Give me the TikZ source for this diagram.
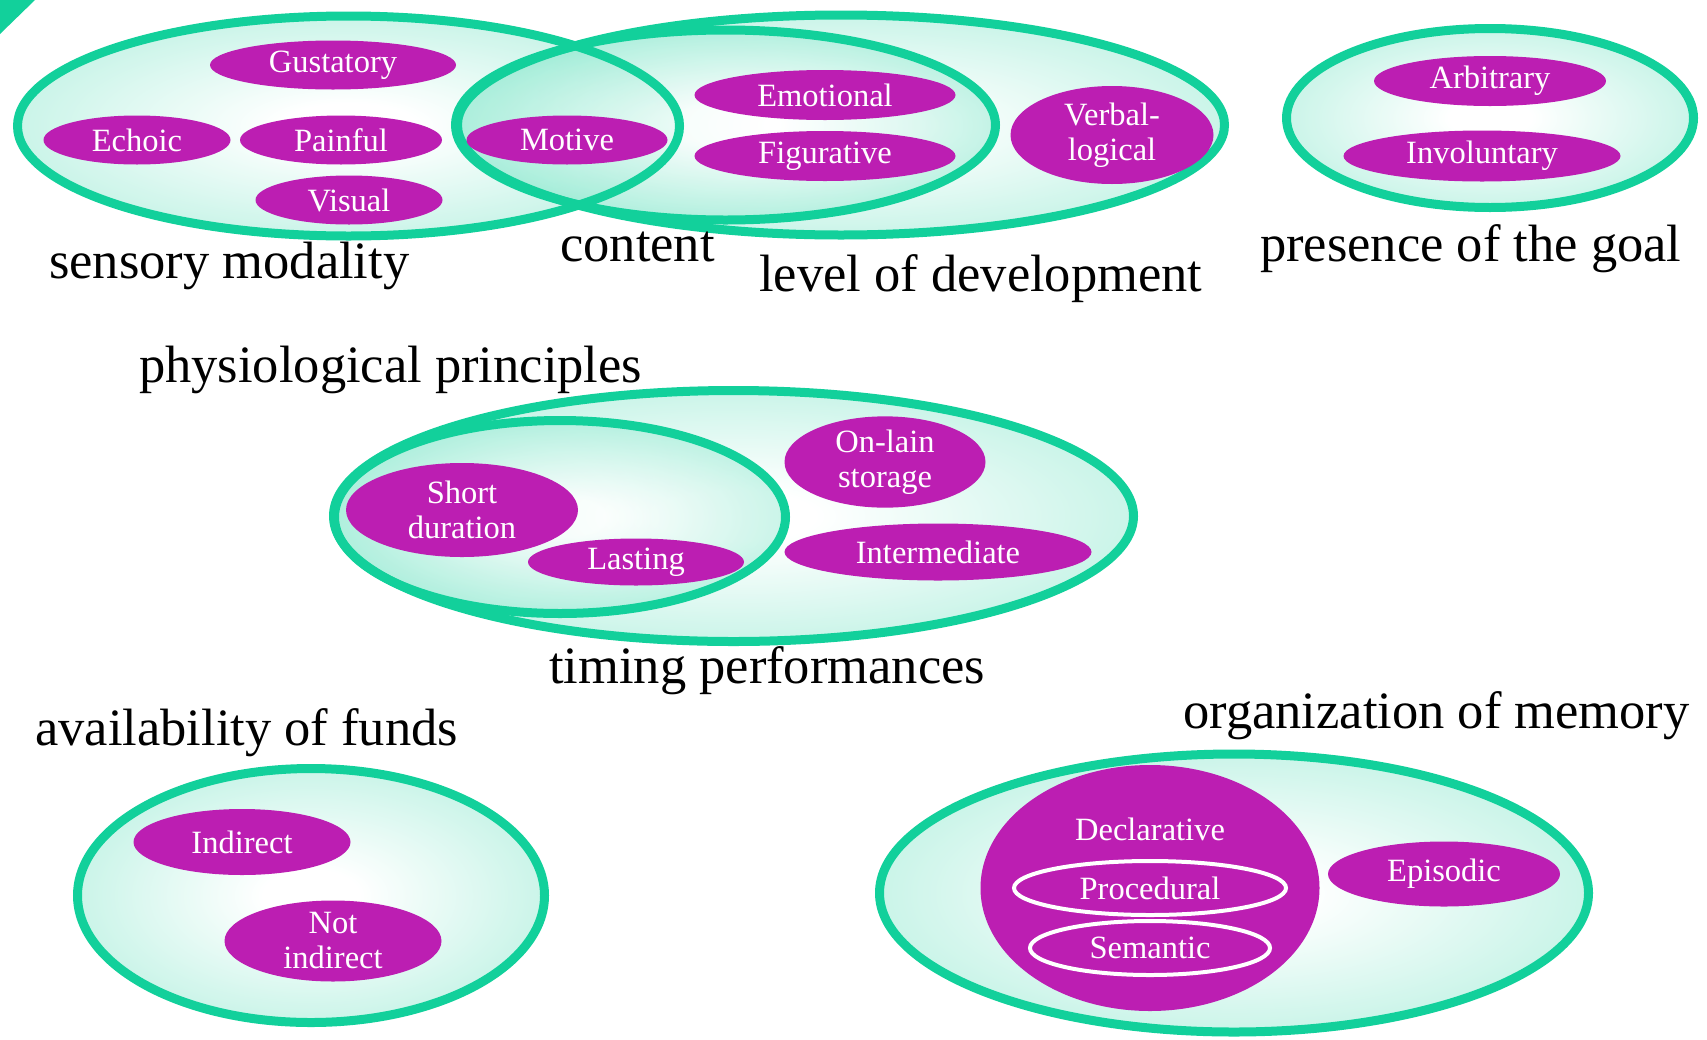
\documentclass[tikz,border=0pt]{standalone}
\usepackage{fontspec}
\setmainfont{Liberation Serif}
\usetikzlibrary{shapes.geometric}
\definecolor{tealc}{RGB}{18,208,155}
\definecolor{magc}{RGB}{188,30,178}
\pgfdeclareradialshading{tealrad}{\pgfpoint{0bp}{0bp}}{color(0bp)=(white); color(5bp)=(white); color(48bp)=(tealc); color(75bp)=(tealc)}
\begin{document}
\begin{tikzpicture}[x=1pt,y=-1pt,
  bigfill/.style={shading=tealrad, fill opacity=0.48},
  bigline/.style={draw=tealc, line width=9pt},
  mag/.style={ellipse, fill=magc, text=white, inner sep=0pt, font=\fontsize{32.5}{35}\selectfont, align=center},
  magw/.style={mag, draw=white, line width=4pt},
  lab/.style={anchor=base west, inner sep=0pt, font=\fontsize{52.5}{60}\selectfont}]
\useasboundingbox (0,0) rectangle (1707,1039);
\fill[tealc] (0,0) -- (35,0) -- (0,34) -- cycle;

% fills
\shade[bigfill] (348.5,126) ellipse [x radius=331, y radius=110];
\shade[bigfill] (841,125) ellipse [x radius=383.5, y radius=110];
\shade[bigfill] (725.5,125) ellipse [x radius=270, y radius=95];
\shade[bigfill] (1490,118) ellipse [x radius=203.5, y radius=89.5];
\shade[bigfill] (733.5,516) ellipse [x radius=400, y radius=125.5];
\shade[bigfill] (560,517) ellipse [x radius=225.5, y radius=96.5];
\shade[bigfill] (311,895.5) ellipse [x radius=233.5, y radius=127];
\shade[bigfill] (1234,893) ellipse [x radius=354.5, y radius=139];

% outlines
\draw[bigline] (348.5,126) ellipse [x radius=331, y radius=110];
\draw[bigline] (841,125) ellipse [x radius=383.5, y radius=110];
\draw[bigline] (725.5,125) ellipse [x radius=270, y radius=95];
\draw[bigline] (1490,118) ellipse [x radius=203.5, y radius=89.5];
\draw[bigline] (733.5,516) ellipse [x radius=400, y radius=125.5];
\draw[bigline] (560,517) ellipse [x radius=225.5, y radius=96.5];
\draw[bigline] (311,895.5) ellipse [x radius=233.5, y radius=127];
\draw[bigline] (1234,893) ellipse [x radius=354.5, y radius=139];

% magenta items
\node[mag, minimum width=246pt, minimum height=49pt] (gus) at (333,65) {Gustatory};
\node[mag, minimum width=187pt, minimum height=49pt] (ech) at (137,140) {Echoic};
\node[mag, minimum width=202pt, minimum height=49pt] (pai) at (341,140) {Painful};
\node[mag, minimum width=187pt, minimum height=49pt] (vis) at (349,200) {Visual};
\node[mag, minimum width=201pt, minimum height=49pt] (mot) at (567,140) {Motive};
\node[mag, minimum width=261pt, minimum height=50pt] (emo) at (825,95) {Emotional};
\node[mag, minimum width=261pt, minimum height=50pt] (fig) at (825,156) {Figurative};
\node[mag, minimum width=203pt, minimum height=98pt] (ver) at (1112,135) {Verbal-\\logical};
\node[mag, minimum width=232pt, minimum height=50pt] (arb) at (1490,81) {Arbitrary};
\node[mag, minimum width=277pt, minimum height=51pt] (inv) at (1482,156) {Involuntary};
\node[mag, minimum width=232pt, minimum height=94pt] (sho) at (462,510) {Short\\duration};
\node[mag, minimum width=216pt, minimum height=47pt] (las) at (636,562) {Lasting};
\node[mag, minimum width=201pt, minimum height=89pt] (onl) at (885,462) {On-lain\\storage};
\node[mag, minimum width=307pt, minimum height=57pt] (int) at (938,552) {Intermediate};
\node[mag, minimum width=217pt, minimum height=66pt] (ind) at (242,842) {Indirect};
\node[mag, minimum width=217pt, minimum height=81pt] (notind) at (333,941) {Not\\indirect};
\node[mag, minimum width=339pt, minimum height=246pt] (dec) at (1150,888) {};
\node[text=white, inner sep=0pt, font=\fontsize{32.5}{35}\selectfont] (dectext) at (1150,829) {Declarative};
\node[magw, minimum width=272pt, minimum height=54pt] (pro) at (1150,888) {Procedural};
\node[magw, minimum width=240pt, minimum height=54pt] (sem) at (1150,948) {Semantic};
\node[mag, minimum width=232pt, minimum height=65pt] (epi) at (1444,874) {Episodic};

% labels
\node[lab] (lsens) at (49,278) {sensory modality};
\node[lab] (lcont) at (560,261) {content};
\node[lab] (llev) at (759,291) {level of development};
\node[lab] (lpres) at (1260,261) {presence of the goal};
\node[lab] (lphys) at (139,382) {physiological principles};
\node[lab] (ltim) at (549,683) {timing performances};
\node[lab] (lavail) at (35,745) {availability of funds};
\node[lab] (lorg) at (1183,728) {organization of memory};
\end{tikzpicture}
\end{document}
